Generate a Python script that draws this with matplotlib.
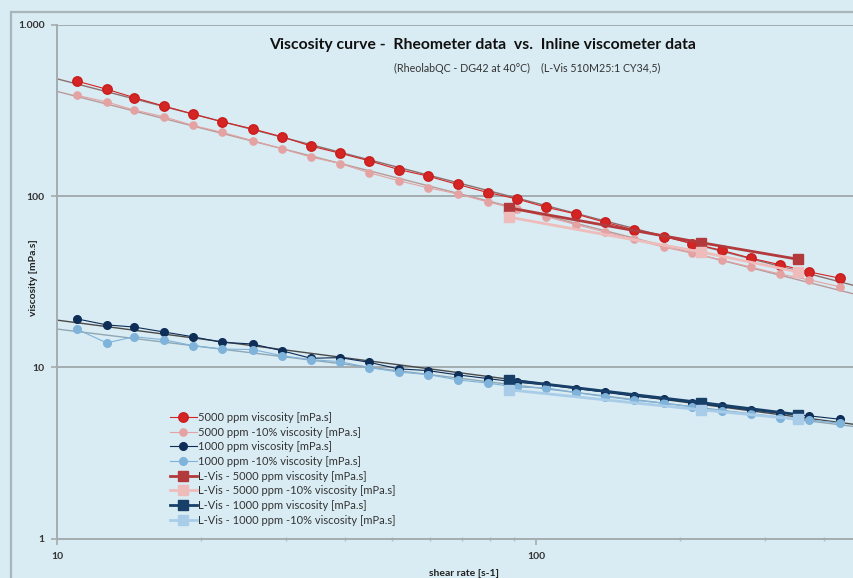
#!/usr/bin/env python3

import numpy as np
import matplotlib.pyplot as plt
from matplotlib.patches import Rectangle
from matplotlib.ticker import FixedLocator, FixedFormatter, NullFormatter

# rheometer shear rates [1/s]
shear = [11.0, 12.7, 14.5, 16.7, 19.2, 22.1, 25.6, 29.5, 33.9, 39.0,
         44.8, 51.7, 59.4, 68.6, 79.3, 91.2, 105, 121, 139, 160,
         185, 212, 244, 281, 323, 372, 430]

visc_5000 = [470, 421, 376, 336, 302, 272, 247, 222, 196, 178,
             161, 143, 131, 117, 105, 96.3, 86.1, 78.7, 70.4, 63.5,
             58.0, 52.8, 48.3, 43.4, 39.8, 36.1, 33.2]
visc_5000_m10 = [388, 355, 318, 291, 259, 236, 211, 189, 169, 155,
                 137, 123, 112, 103, 92.5, 83.9, 75.9, 68.2, 61.8, 56.0,
                 50.3, 46.4, 42.4, 38.5, 35.1, 32.4, 29.6]
visc_1000 = [19.2, 17.7, 17.2, 16.1, 15.1, 14.0, 13.7, 12.5, 11.3, 11.4,
             10.7, 9.80, 9.58, 9.04, 8.60, 8.19, 7.90, 7.52, 7.17, 6.79,
             6.52, 6.23, 5.91, 5.65, 5.40, 5.21, 4.98]
visc_1000_m10 = [16.7, 13.9, 15.1, 14.5, 13.4, 12.8, 12.7, 11.7, 11.1, 10.8,
                 9.97, 9.38, 9.08, 8.45, 8.09, 7.66, 7.59, 7.13, 6.75, 6.43,
                 6.18, 5.88, 5.57, 5.35, 5.09, 4.94, 4.72]

# inline viscometer (L-Vis)
lvis_shear = [88, 221, 352]
lvis_5000 = [85.3, 53.5, 42.8]
lvis_5000_m10 = [75.3, 47.2, 36.1]
lvis_1000 = [8.45, 6.23, 5.30]
lvis_1000_m10 = [7.39, 5.65, 4.98]

BG = '#d9ecf3'
GRID = '#a3acae'
XMAX = 461


def trend(ax, x, y, color):
    """ power-law trendline across the whole axis """
    k, b = np.polyfit(np.log10(x), np.log10(y), 1)
    xs = np.array([10, XMAX])
    ax.plot(xs, 10 ** (k * np.log10(xs) + b), color=color, lw=1.0,
            zorder=2)


def main():
    plt.rcParams['font.family'] = ['Lato', 'DejaVu Sans']
    fig = plt.figure(figsize=(8.54, 5.78), dpi=100, facecolor=BG)
    ax = fig.add_axes([57 / 854, 1 - 538.6 / 578, 797 / 854,
                       (538.6 - 24.9) / 578])
    ax.set_facecolor(BG)

    # outer chart border
    fig.patches.append(Rectangle((11 / 854, -0.1), 1.2, 1.1 - 12 / 578,
                                 transform=fig.transFigure, fill=False,
                                 edgecolor='#aab5b9', lw=1.6))

    ax.set_xscale('log')
    ax.set_yscale('log')
    ax.set_xlim(10, XMAX)
    ax.set_ylim(1, 1000)

    for yv in [10, 100, 1000]:
        ax.axhline(yv, color=GRID, lw=1.4, zorder=1)

    trend(ax, shear, visc_5000, '#8c6f6f')
    trend(ax, shear, visc_5000_m10, '#b89a9a')
    trend(ax, shear, visc_1000, '#4a4a4a')
    trend(ax, shear, visc_1000_m10, '#8fa6b4')

    ax.plot(shear, visc_5000, '-o', color='#d42424', ms=6.8, lw=0.8,
            mec='#c81e1e', zorder=4, label='5000 ppm viscosity [mPa.s]')
    ax.plot(shear, visc_5000_m10, '-o', color='#e4a2a2', ms=5.2, lw=0.8,
            mec='#e4a2a2', zorder=4,
            label='5000 ppm -10% viscosity [mPa.s]')
    ax.plot(shear, visc_1000, '-o', color='#0e2d57', ms=5.5, lw=0.8,
            zorder=4, label='1000 ppm viscosity [mPa.s]')
    ax.plot(shear, visc_1000_m10, '-o', color='#7fb3da', ms=5.5, lw=0.8,
            mec='#7fb3da', zorder=4,
            label='1000 ppm -10% viscosity [mPa.s]')

    ax.plot(lvis_shear, lvis_5000, '-s', color='#b23a3c', ms=7, lw=2,
            zorder=5, label='L-Vis - 5000 ppm viscosity [mPa.s]')
    ax.plot(lvis_shear, lvis_5000_m10, '-s', color='#efbcbc', ms=7, lw=2,
            zorder=5, label='L-Vis - 5000 ppm -10% viscosity [mPa.s]')
    ax.plot(lvis_shear, lvis_1000, '-s', color='#183f68', ms=7, lw=2,
            zorder=5, label='L-Vis - 1000 ppm viscosity [mPa.s]')
    ax.plot(lvis_shear, lvis_1000_m10, '-s', color='#a9cde9', ms=7, lw=2,
            zorder=5, label='L-Vis - 1000 ppm -10% viscosity [mPa.s]')

    # axes styling
    for s in ['top', 'right']:
        ax.spines[s].set_visible(False)
    for s in ['left', 'bottom']:
        ax.spines[s].set_color(GRID)
        ax.spines[s].set_linewidth(1.4)

    ax.yaxis.set_major_locator(FixedLocator([1, 10, 100, 1000]))
    ax.yaxis.set_major_formatter(FixedFormatter(['1', '10', '100', '1.000']))
    ax.yaxis.set_minor_locator(FixedLocator([]))
    ax.xaxis.set_major_locator(FixedLocator([10, 100]))
    ax.xaxis.set_major_formatter(FixedFormatter(['10', '100']))
    ax.xaxis.set_minor_formatter(NullFormatter())
    ax.tick_params(axis='both', which='major', length=4, width=1.2,
                   color=GRID, labelsize=7.5, labelcolor='#333333')
    ax.tick_params(axis='x', which='minor', length=3, width=1.0,
                   color='#b5bfc2', direction='inout')
    ax.tick_params(axis='y', pad=5)
    ax.tick_params(axis='x', pad=6)
    for t in ax.get_xticklabels() + ax.get_yticklabels():
        t.set_fontweight('bold')

    fig.text(464 / 854, 1 - 573 / 578, 'shear rate [s-1]', ha='center',
             va='center', fontsize=7.5, fontweight='bold', color='#222222')
    fig.text(33 / 854, 1 - 278 / 578, 'viscosity [mPa.s]', ha='center',
             va='center', rotation=90, fontsize=7.5, fontweight='bold',
             color='#222222')

    fig.text(483 / 854, 1 - 45 / 578,
             'Viscosity curve -  Rheometer data  vs.  Inline viscometer data',
             ha='center', va='center', fontsize=11.3, fontweight='bold',
             color='#111111')
    fig.text(527 / 854, 1 - 68.5 / 578,
             '(RheolabQC - DG42 at 40\u00b0C)    (L-Vis 510M25:1 CY34,5)',
             ha='center', va='center', fontsize=7.7, color='#333333')

    ax.legend(loc='upper left', bbox_to_anchor=(170 / 854, 1 - 412 / 578),
              bbox_transform=fig.transFigure, frameon=False, fontsize=8,
              handlelength=2.4, handletextpad=0.15, labelspacing=0.33,
              borderaxespad=0, borderpad=0, labelcolor='#333333')

    fig.savefig('out.png', dpi=100, facecolor=BG)


if __name__ == "__main__":
    main()
